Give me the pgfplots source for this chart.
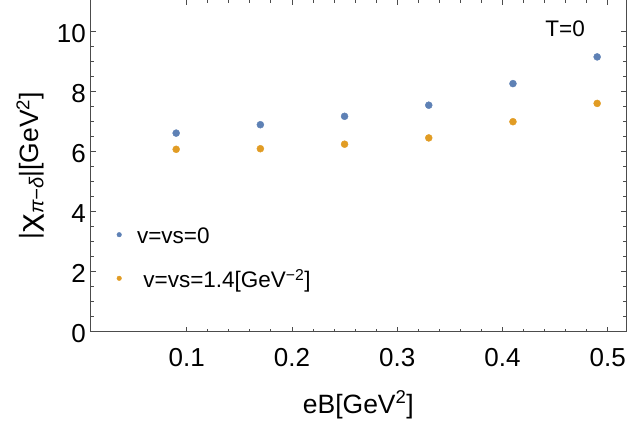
\documentclass[border=0pt]{standalone}
\usepackage{fontspec}
\setmainfont{Liberation Sans}
\usepackage{graphicx}
\usepackage{pgfplots}
\pgfplotsset{compat=1.18}

\definecolor{mblue}{rgb}{0.368417,0.506779,0.709798}
\definecolor{morange}{rgb}{0.880722,0.611041,0.142051}
\definecolor{framegray}{gray}{0.3}

\newcommand{\ticksize}{\fontsize{26pt}{26pt}\selectfont}
\newcommand{\labsize}{\fontsize{26.5pt}{27pt}\selectfont}
\newcommand{\legsize}{\fontsize{22.5pt}{22pt}\selectfont}

\pgfplotsset{
    dotlegend/.style={legend image code/.code={\fill[##1] (0pt,3.8pt) circle (2.3pt);}},
}

\begin{document}
\begin{tikzpicture}
\begin{axis}[
    at={(0,0)}, anchor=south west,
    scale only axis, width=535.3pt, height=331.7pt,
    xmin=0.00879, xmax=0.5174, ymin=0, ymax=11.057,
    xtick={0.1,0.2,0.3,0.4,0.5}, ytick={0,2,4,6,8,10},
    minor x tick num=4, minor y tick num=3,
    tick align=inside,
    major tick length=5pt, minor tick length=3pt,
    axis line style={framegray, line width=1pt},
    every tick/.style={framegray, line width=0.8pt},
    /pgf/number format/assume math mode=true,
    tick label style={font=\ticksize, inner sep=0pt, text=black},
    yticklabel style={anchor=east, xshift=-4.7pt, yshift=-2pt},
    xticklabel style={anchor=north, yshift=-16.5pt},
    every axis x label/.style={at={(axis description cs:0.5,-0.2451)}, anchor=base, font=\labsize, inner sep=0pt},
    every axis y label/.style={at={(axis description cs:-0.0979,0.5)}, rotate=90, anchor=base, font=\labsize, inner sep=0pt},
    xlabel={eB[GeV\textsuperscript{2}]},
    ylabel={|\scalebox{1.35}[1.05]{χ}\raisebox{-5pt}{\fontsize{20pt}{20pt}\selectfont\textit{π−δ}}|[GeV\textsuperscript{2}]},
    legend cell align=left,
    legend style={draw=none, fill=none, inner sep=0pt, outer sep=0pt,
        at={(axis cs:0.0335,3.457)}, anchor=north west,
        row sep=22.6pt, column sep=15.4pt,
        nodes={font=\legsize, inner sep=0pt, text height=16pt, text depth=5pt}},
]
\addplot[only marks, mark=*, color=mblue, mark size=3.5pt, mark options={draw=none, fill=mblue}, dotlegend]
    coordinates {(0.09,6.62) (0.17,6.90) (0.25,7.18) (0.33,7.55) (0.41,8.27) (0.49,9.16)};
\addlegendentry{v=vs=0}
\addplot[only marks, mark=*, color=morange, mark size=3.5pt, mark options={draw=none, fill=morange}, dotlegend]
    coordinates {(0.09,6.08) (0.17,6.10) (0.25,6.25) (0.33,6.46) (0.41,7.00) (0.49,7.61)};
\addlegendentry{\hspace*{6.3pt}v=vs=1.4[GeV\textsuperscript{−2}]}
\node[font=\legsize, inner sep=0pt] at (axis cs:0.4595,10.11) {T=0};
\end{axis}
\pgfresetboundingbox
\path[use as bounding box] (-90.7pt,-94.3pt) rectangle (536.3pt,331.7pt);
\end{tikzpicture}
\end{document}
